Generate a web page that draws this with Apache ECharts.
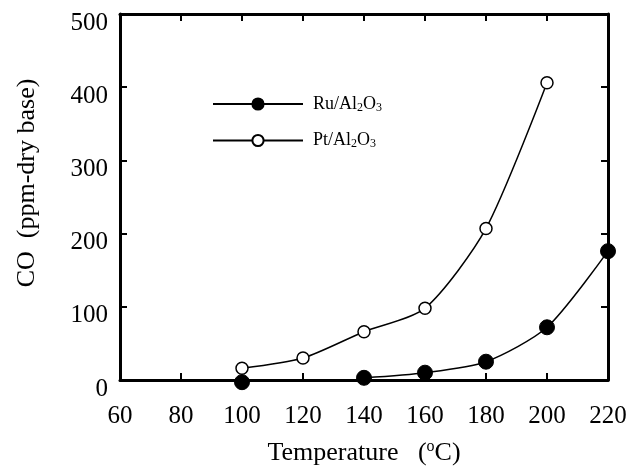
<!DOCTYPE html>
<html>
<head>
<meta charset="utf-8">
<script src="https://cdn.jsdelivr.net/npm/echarts@6/dist/echarts.min.js"></script>
<style>
  html, body { margin: 0; padding: 0; background: #fff; }
  #main { width: 637px; height: 466px; }
</style>
</head>
<body>
<div id="main"></div>
<script>
// 数据
var xTicks = [60, 80, 100, 120, 140, 160, 180, 200, 220];
var yTicks = [0, 100, 200, 300, 400, 500];
var ptData = [[100, 16], [120, 30], [140, 66], [160, 98], [180, 207], [200, 406]];
// Ru 在 100°C 的点没有连线
var ruData = [[100, -3], [120, '-'], [140, 3], [160, 10], [180, 25], [200, 72], [220, 176]];

var FONT = 'Liberation Serif';
var chart = echarts.init(document.getElementById('main'));

var baseAxis = {
    axisLine: { show: true, onZero: false, lineStyle: { color: '#000', width: 3 } },
    axisTick: { show: true, inside: true, length: 7, lineStyle: { color: '#000', width: 2 } },
    splitLine: { show: false }
};

chart.setOption({
    backgroundColor: '#fff',
    animation: false,
    grid: { left: 120, right: 29, top: 14, bottom: 86, outerBoundsMode: 'none', containLabel: false },
    legend: {
        orient: 'vertical',
        left: 212,
        top: 95,
        padding: 0,
        itemWidth: 90,
        itemHeight: 14,
        itemGap: 18,
        data: ['Ru', 'Pt'],
        formatter: function (name) {
            return name + '/Al{sub|2}O{sub|3}';
        },
        textStyle: {
            fontFamily: FONT, fontSize: 18, color: '#000', padding: [0, 0, 0, 5],
            rich: {
                sub: { fontFamily: FONT, fontSize: 12, color: '#000', verticalAlign: 'bottom', padding: [7, 0, 0, 0] }
            }
        }
    },
    xAxis: [
        Object.assign({}, baseAxis, {
            type: 'value', min: 60, max: 220, interval: 20, position: 'bottom',
            name: 'Temperature   ({sup|o}C)',
            nameLocation: 'middle', nameGap: 59,
            nameTextStyle: {
                fontFamily: FONT, fontSize: 26, color: '#000',
                rich: { sup: { fontFamily: FONT, fontSize: 16, color: '#000', verticalAlign: 'top', padding: [0, 0, 12, 0] } }
            },
            axisLabel: {
                fontFamily: FONT, fontSize: 25, color: '#000', margin: 24,
                formatter: function (v) { return xTicks.indexOf(v) >= 0 ? String(v) : ''; }
            }
        }),
        Object.assign({}, baseAxis, {
            type: 'value', min: 60, max: 220, interval: 20, position: 'top',
            axisLabel: { show: false }
        })
    ],
    yAxis: [
        Object.assign({}, baseAxis, {
            type: 'value', min: 0, max: 500, interval: 100, position: 'left',
            name: 'CO  (ppm-dry base)',
            nameLocation: 'middle', nameGap: 80, nameRotate: 90,
            nameTextStyle: { fontFamily: FONT, fontSize: 26, color: '#000', padding: [0, 0, 0, 28] },
            axisLabel: {
                fontFamily: FONT, fontSize: 25, color: '#000', margin: 12,
                verticalAlign: 'top', lineHeight: 18,
                formatter: function (v) { return yTicks.indexOf(v) >= 0 ? String(v) : ''; }
            }
        }),
        Object.assign({}, baseAxis, {
            type: 'value', min: 0, max: 500, interval: 100, position: 'right',
            axisLabel: { show: false }
        })
    ],
    series: [
        {
            name: 'Ru',
            type: 'line',
            data: ruData,
            smooth: 0.25,
            clip: false,
            connectNulls: false,
            symbol: 'circle',
            symbolSize: 15,
            lineStyle: { color: '#000', width: 1.5 },
            itemStyle: { color: '#000', borderColor: '#000', borderWidth: 1 },
            z: 3
        },
        {
            name: 'Pt',
            type: 'line',
            data: ptData,
            smooth: 0.25,
            clip: false,
            symbol: 'circle',
            symbolSize: 12,
            showAllSymbol: true,
            lineStyle: { color: '#000', width: 1.5 },
            itemStyle: { color: '#fff', borderColor: '#000', borderWidth: 1.5 },
            z: 3
        }
    ]
});
</script>
</body>
</html>
